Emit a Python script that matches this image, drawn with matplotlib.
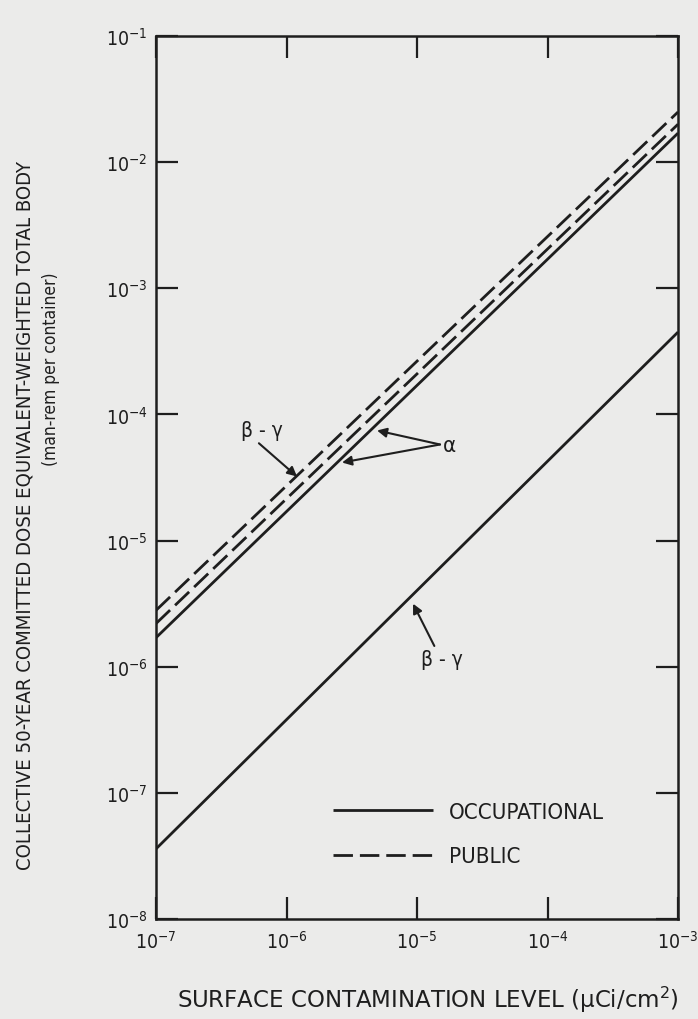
import numpy as np
import matplotlib
matplotlib.use("Agg")
import matplotlib.pyplot as plt
from matplotlib import font_manager
from matplotlib.ticker import FixedLocator, FixedFormatter, NullLocator

# ---- data ----
x_range = [1e-7, 1e-3]
occ_beta_gamma = [3.6e-8, 4.5e-4]
occ_alpha = [1.7e-6, 1.7e-2]
pub_alpha = [2.2e-6, 2.0e-2]
pub_beta_gamma = [2.8e-6, 2.5e-2]

x_ticks = [1e-7, 1e-6, 1e-5, 1e-4, 1e-3]
x_ticklabels = ["10$^{-7}$", "10$^{-6}$", "10$^{-5}$", "10$^{-4}$", "10$^{-3}$"]
y_ticks = [1e-8, 1e-7, 1e-6, 1e-5, 1e-4, 1e-3, 1e-2, 1e-1]
y_ticklabels = ["10$^{-8}$", "10$^{-7}$", "10$^{-6}$", "10$^{-5}$",
                "10$^{-4}$", "10$^{-3}$", "10$^{-2}$", "10$^{-1}$"]

# pick a condensed font if one is installed
fam, stretch = 'DejaVu Sans', 'normal'
entries = font_manager.fontManager.ttflist
if any(f.name == 'Liberation Sans Narrow' for f in entries):
    fam = 'Liberation Sans Narrow'
elif any(f.name == 'DejaVu Sans' and f.stretch in ('condensed', 'semi-condensed') for f in entries):
    fam, stretch = 'DejaVu Sans', 'condensed'
elif any(f.name == 'Roboto Condensed' for f in entries):
    fam = 'Roboto Condensed'
else:
    fam = 'Liberation Sans'
FONT = [fam, 'DejaVu Sans']
plt.rcParams['font.family'] = FONT
plt.rcParams['font.stretch'] = stretch
plt.rcParams['mathtext.default'] = 'regular'

BG = '#ebebea'
INK = '#1e1e1e'

fig = plt.figure(figsize=(6.98, 10.2), dpi=100, facecolor=BG)
ax = fig.add_axes([0.2235, 0.098, 0.7479, 0.8657], facecolor=BG)
ax.set_xscale('log')
ax.set_yscale('log')
ax.set_xlim(x_range)
ax.set_ylim(1e-8, 1e-1)

lw = 2.0
ax.plot(x_range, occ_beta_gamma, color=INK, lw=lw, solid_capstyle='butt')
ax.plot(x_range, occ_alpha, color=INK, lw=lw, solid_capstyle='butt', label='OCCUPATIONAL')
ax.plot(x_range, pub_alpha, color=INK, lw=lw, dashes=(7, 2.5))
ax.plot(x_range, pub_beta_gamma, color=INK, lw=lw, dashes=(7, 2.5), label='PUBLIC')

for s in ax.spines.values():
    s.set_linewidth(1.8)
    s.set_color(INK)

ax.xaxis.set_major_locator(FixedLocator(x_ticks))
ax.xaxis.set_major_formatter(FixedFormatter(x_ticklabels))
ax.yaxis.set_major_locator(FixedLocator(y_ticks))
ax.yaxis.set_major_formatter(FixedFormatter(y_ticklabels))
ax.xaxis.set_minor_locator(NullLocator())
ax.yaxis.set_minor_locator(NullLocator())
ax.tick_params(which='major', direction='in', length=16, width=1.6, color=INK,
               top=True, right=True, labelsize=14, labelcolor=INK)
ax.tick_params(axis='x', pad=8)
ax.tick_params(axis='y', pad=6)

# labels
fig.text(0.036, 0.495, "COLLECTIVE 50-YEAR COMMITTED DOSE EQUIVALENT-WEIGHTED TOTAL BODY",
         rotation=90, ha='center', va='center', fontsize=14.6, color=INK)
fig.text(0.073, 0.638, "(man-rem per container)", rotation=90, ha='center', va='center',
         fontsize=12.5, color=INK)
fig.text(0.613, 0.0196, "SURFACE CONTAMINATION LEVEL (\u03bcCi/cm$^{2}$)", ha='center',
         va='center', fontsize=16.5, color=INK, fontstretch='normal')

# pixel -> data helpers
def px2data(px, py):
    lx = -7 + (px - 156) / 130.5
    ly = -8 + (920 - py) / 126.0
    return 10 ** lx, 10 ** ly

arrow = dict(arrowstyle='-|>', color=INK, lw=1.5, mutation_scale=14, shrinkA=0, shrinkB=0)

# beta-gamma upper
ax.annotate("\u03b2 - \u03b3", xy=px2data(297, 478), xytext=px2data(262, 432),
            ha='center', va='center', fontsize=15, color=INK,
            arrowprops=dict(arrow, relpos=(0.35, 0)))
# alpha
ax.text(*px2data(449, 447), "\u03b1", ha='center', va='center', fontsize=16, color=INK)
ax.annotate("", xy=px2data(377, 432), xytext=px2data(440, 446), arrowprops=arrow)
ax.annotate("", xy=px2data(342, 464), xytext=px2data(440, 446), arrowprops=arrow)
# beta-gamma lower
ax.annotate("\u03b2 - \u03b3", xy=px2data(413, 605), xytext=px2data(442, 660),
            ha='center', va='center', fontsize=15, color=INK,
            arrowprops=dict(arrow, relpos=(0.35, 1)))

leg = ax.legend(loc='center left', bbox_to_anchor=(0.30, 0.096), frameon=False,
                handlelength=4.5, labelspacing=1.1, handletextpad=0.75,
                prop={'size': 16, 'family': FONT, 'stretch': stretch})
for t in leg.get_texts():
    t.set_color(INK)

fig.savefig("out.png", dpi=100, facecolor=BG)
